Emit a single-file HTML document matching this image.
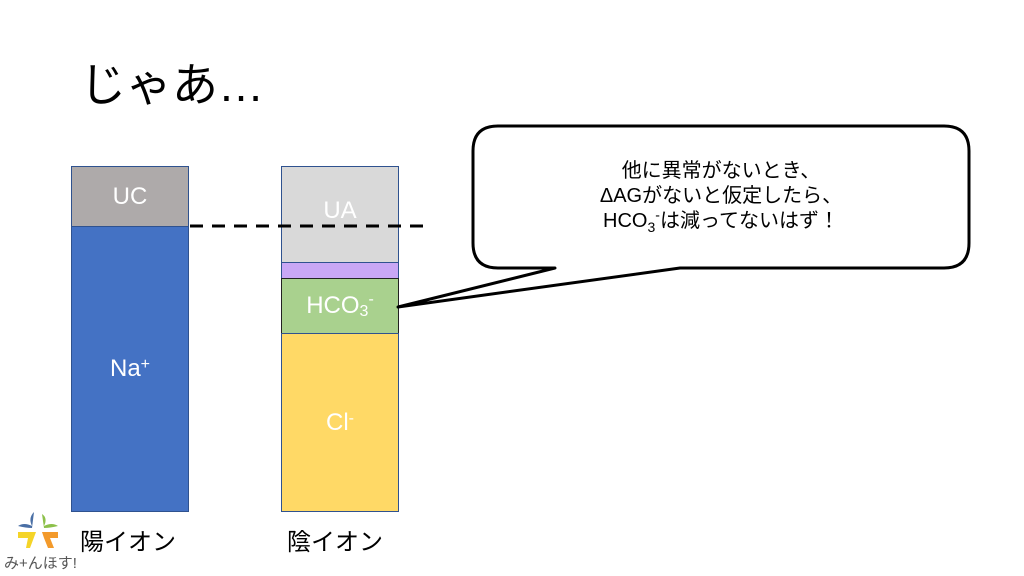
<!DOCTYPE html>
<html><head><meta charset="utf-8"><style>
body{margin:0;width:1024px;height:576px;background:#fff;position:relative;overflow:hidden;font-family:"Liberation Sans","Noto Sans CJK JP",sans-serif}
.b{position:absolute;box-sizing:border-box;border:1.5px solid #2f528f;color:#fff;font-size:24px;display:flex;align-items:center;justify-content:center}
.t{position:absolute;color:#000}
</style></head><body>
<div class="t" style="left:80px;top:49px;font-size:46px">じゃあ…</div>
<div class="b" style="left:71px;top:166px;width:118px;height:61px;background:#aeaaaa">UC</div>
<div class="b" style="left:71px;top:226px;width:118px;height:286px;background:#4472c4">Na<sup style="font-size:16px;position:relative;top:-4px">+</sup></div>
<div class="b" style="left:281px;top:166px;width:118px;height:97px;background:#d9d9d9;padding-bottom:8px">UA</div>
<div class="b" style="left:281px;top:262px;width:118px;height:17px;background:#c9a7f5"></div>
<div class="b" style="left:281px;top:278px;width:118px;height:56px;background:#a9d18e;border-color:#222">HCO<sub style="font-size:16px;position:relative;top:6px">3</sub><sup style="font-size:16px;position:relative;top:-6px">-</sup></div>
<div class="b" style="left:281px;top:333px;width:118px;height:179px;background:#ffd966">Cl<sup style="font-size:16px;position:relative;top:-4px">-</sup></div>
<svg style="position:absolute;left:0;top:0" width="1024" height="576">
<line x1="190" y1="226" x2="424" y2="226" stroke="#000" stroke-width="3" stroke-dasharray="13,9"/>
<path d="M498,126 H944 Q969,126 969,151 V243 Q969,268 944,268 H680 L398,307 L555,268 H498 Q473,268 473,243 V151 Q473,126 498,126 Z" fill="#fff" stroke="#000" stroke-width="3" stroke-linejoin="round"/>
</svg>
<div class="t" style="left:473px;top:159px;width:496px;text-align:center;font-size:20px;line-height:25px">他に異常がないとき、<br>ΔAGがないと仮定したら、<br>HCO<sub style="font-size:14px;line-height:0">3</sub><sup style="font-size:14px;line-height:0">-</sup>は減ってないはず！</div>
<div class="t" style="left:80px;top:522px;font-size:24px">陽イオン</div>
<div class="t" style="left:287px;top:522px;font-size:24px">陰イオン</div>
<svg style="position:absolute;left:14px;top:510px" width="50" height="42">
<path d="M20,2 q-6,6 -2,14 q-8,-4 -14,0 q8,2 14,2z" fill="#4a6fa5"/>
<path d="M28,4 q6,4 2,12 q8,-4 14,0 q-8,2 -14,2z" fill="#8cc04a"/>
<path d="M4,22 h18 l-6,16 h-4 l2,-10 h-10z" fill="#f5d428"/>
<path d="M28,22 h16 v6 h-8 l4,10 h-6 l-4,-10z" fill="#f39a2b"/>
</svg>
<div class="t" style="left:4px;top:552px;font-size:15px;color:#555">み+んほす!</div>
</body></html>
